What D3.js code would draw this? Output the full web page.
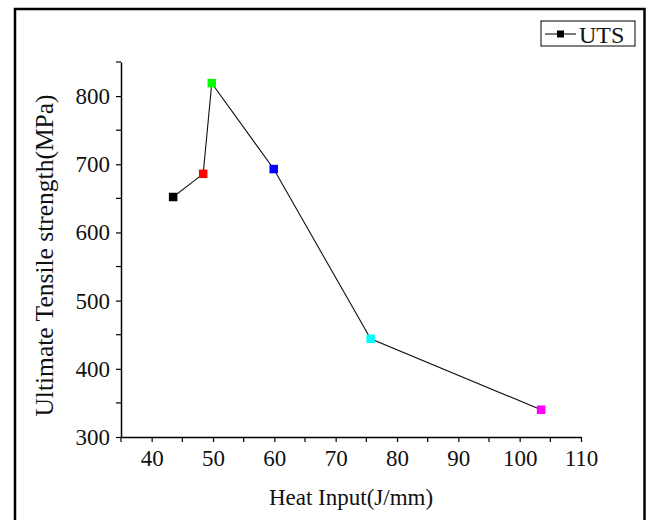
<!DOCTYPE html>
<html>
<head>
<meta charset="utf-8">
<script src="https://cdn.jsdelivr.net/npm/d3@7"></script>
<style>
  html, body { margin: 0; padding: 0; background: #fff; }
  svg { display: block; }
  text { font-family: "Liberation Serif", "Times New Roman", serif; fill: #111; }
</style>
</head>
<body>
<div id="chart"></div>
<script>
// ---- data ----
const heatInput = [43.5, 48.4, 49.8, 59.9, 75.7, 103.5];
const uts = [652, 686, 819, 693, 444, 340];
const pointColors = ["#000000", "#ff0000", "#00ff00", "#0000ff", "#00ffff", "#ff00ff"];
const xTicks = [40, 50, 60, 70, 80, 90, 100, 110];
const yTicks = [300, 400, 500, 600, 700, 800];
const xTitle = "Heat Input(J/mm)";
const yTitle = "Ultimate Tensile strength(MPa)";
const seriesName = "UTS";

const W = 646, H = 520;
const svg = d3.select("#chart").append("svg").attr("width", W).attr("height", H);

// outer frame
svg.append("rect").attr("x", 15).attr("y", 9).attr("width", 629.5).attr("height", 530)
  .attr("fill", "none").attr("stroke", "#000").attr("stroke-width", 2.5);

const x = d3.scaleLinear().domain([35, 110]).range([121, 581]);
const y = d3.scaleLinear().domain([300, 850]).range([437, 62]);

// minor ticks
const xMinor = d3.range(35, 111, 5).filter(v => !xTicks.includes(v));
const yMinor = d3.range(300, 851, 50).filter(v => !yTicks.includes(v));

const gx = svg.append("g").attr("transform", `translate(0,${y(300)})`);
gx.call(d3.axisBottom(x).tickValues(xTicks).tickSize(5).tickPadding(8).tickSizeOuter(0));
gx.append("g").selectAll("line").data(xMinor).join("line")
  .attr("x1", d => x(d)).attr("x2", d => x(d)).attr("y1", 0).attr("y2", 5)
  .attr("stroke", "#000").attr("stroke-width", 1.2);

const gy = svg.append("g").attr("transform", `translate(${x(35)},0)`);
gy.call(d3.axisLeft(y).tickValues(yTicks).tickSize(5).tickPadding(6).tickSizeOuter(0));
gy.append("g").selectAll("line").data(yMinor).join("line")
  .attr("y1", d => y(d)).attr("y2", d => y(d)).attr("x1", 0).attr("x2", -5)
  .attr("stroke", "#000").attr("stroke-width", 1.2);

[gx, gy].forEach(g => {
  g.attr("font-family", null);
  g.select(".domain").attr("stroke", "#000").attr("stroke-width", 1.5);
  g.selectAll(".tick line").attr("stroke", "#000").attr("stroke-width", 1.2);
  g.selectAll(".tick text").attr("font-size", 23)
    .style("font-family", "'Liberation Serif', serif").attr("fill", "#111");
});

// line
const pts = heatInput.map((v, i) => ({ x: v, y: uts[i], c: pointColors[i] }));
svg.append("path").datum(pts)
  .attr("d", d3.line().x(d => x(d.x)).y(d => y(d.y)))
  .attr("fill", "none").attr("stroke", "#111").attr("stroke-width", 1.1);

const ms = 8.5;
svg.append("g").selectAll("rect").data(pts).join("rect")
  .attr("x", d => x(d.x) - ms / 2).attr("y", d => y(d.y) - ms / 2)
  .attr("width", ms).attr("height", ms).attr("fill", d => d.c);

// axis titles
svg.append("text").attr("x", (x(35) + x(110)) / 2).attr("y", 505)
  .attr("text-anchor", "middle").attr("font-size", 23).text(xTitle);
svg.append("text").attr("transform", `translate(53,${(y(300) + y(850)) / 2 + 6}) rotate(-90)`)
  .attr("text-anchor", "middle").attr("font-size", 25.5).text(yTitle);

// legend
const lg = svg.append("g");
lg.append("rect").attr("x", 541).attr("y", 21).attr("width", 94).attr("height", 25)
  .attr("fill", "#fff").attr("stroke", "#000").attr("stroke-width", 1);
lg.append("line").attr("x1", 545).attr("x2", 576).attr("y1", 34).attr("y2", 34)
  .attr("stroke", "#111").attr("stroke-width", 1.1);
lg.append("rect").attr("x", 557).attr("y", 30.5).attr("width", 7).attr("height", 7).attr("fill", "#000");
lg.append("text").attr("x", 579).attr("y", 42.5).attr("font-size", 24).text(seriesName);
</script>
</body>
</html>
